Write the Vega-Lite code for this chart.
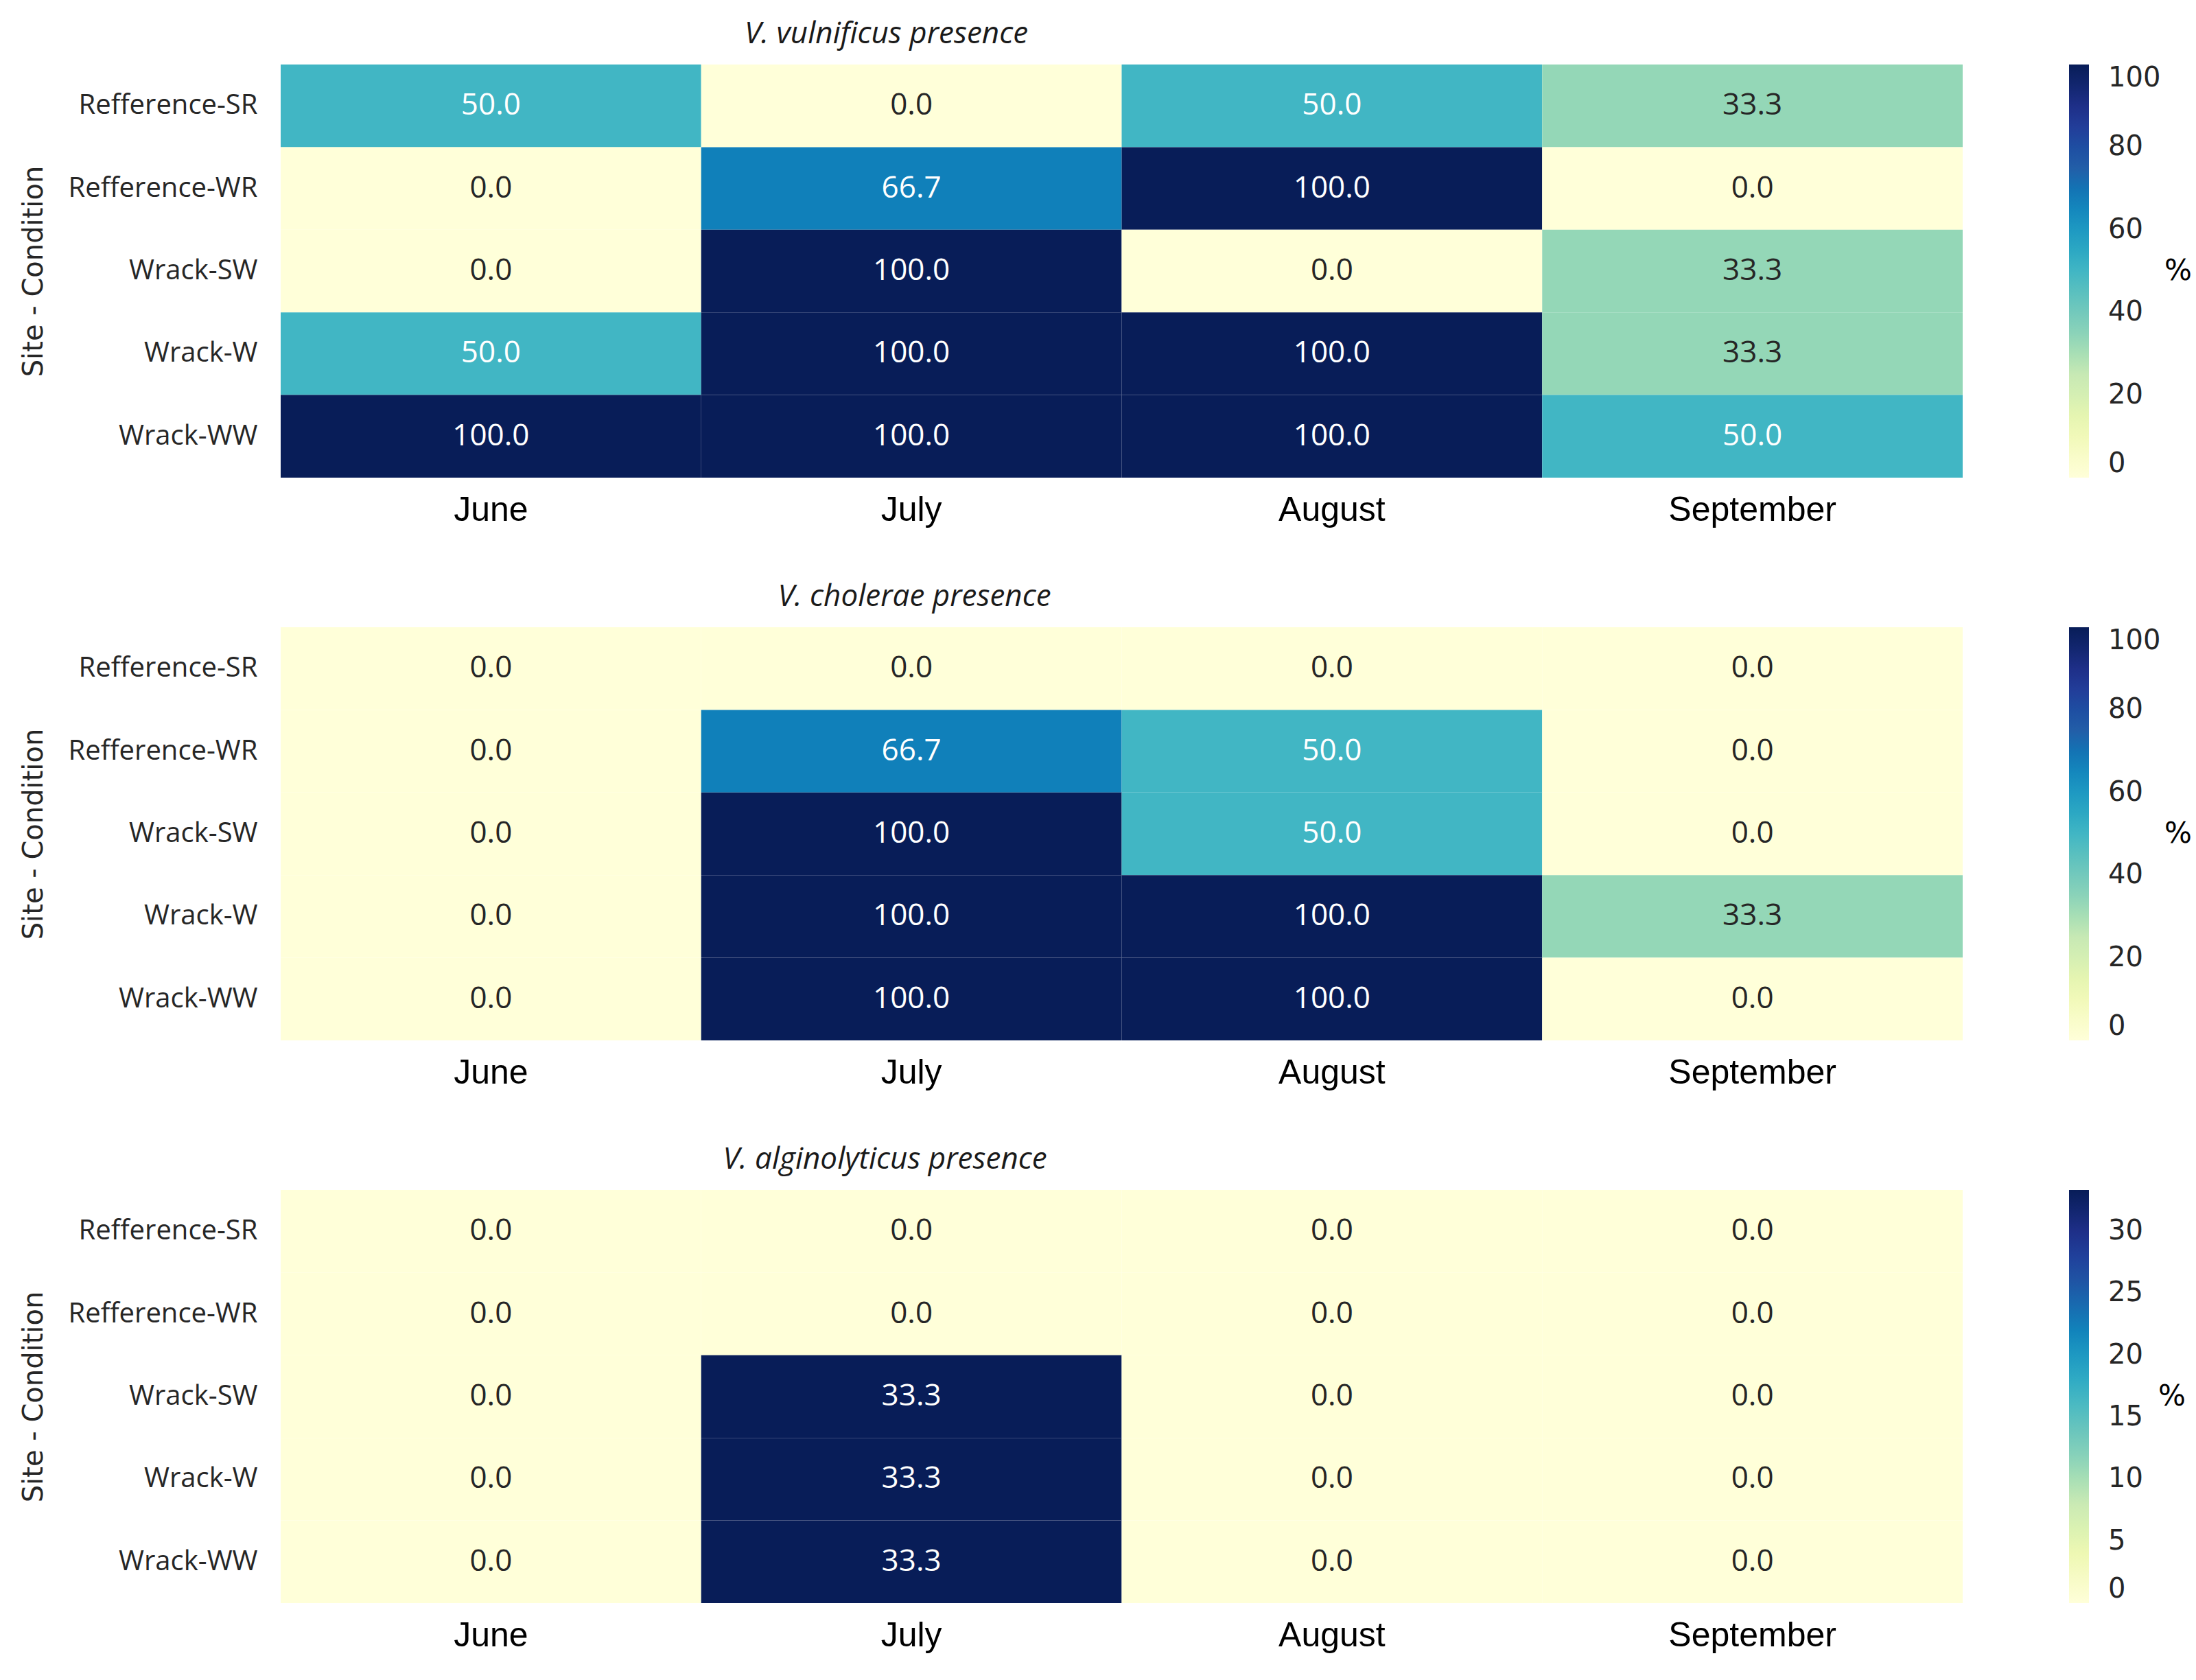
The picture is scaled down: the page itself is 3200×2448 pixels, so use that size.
{
  "$schema": "https://vega.github.io/schema/vega-lite/v6.json",
  "background": "white",
  "padding": {"left": 28, "top": 28, "right": 10, "bottom": 10},
  "datasets": {
    "cells": [
      {"species": "vulnificus", "site": "Refference-SR", "month": "June", "v": 50},
      {"species": "vulnificus", "site": "Refference-SR", "month": "July", "v": 0},
      {"species": "vulnificus", "site": "Refference-SR", "month": "August", "v": 50},
      {"species": "vulnificus", "site": "Refference-SR", "month": "September", "v": 33.33},
      {"species": "vulnificus", "site": "Refference-WR", "month": "June", "v": 0},
      {"species": "vulnificus", "site": "Refference-WR", "month": "July", "v": 66.67},
      {"species": "vulnificus", "site": "Refference-WR", "month": "August", "v": 100},
      {"species": "vulnificus", "site": "Refference-WR", "month": "September", "v": 0},
      {"species": "vulnificus", "site": "Wrack-SW", "month": "June", "v": 0},
      {"species": "vulnificus", "site": "Wrack-SW", "month": "July", "v": 100},
      {"species": "vulnificus", "site": "Wrack-SW", "month": "August", "v": 0},
      {"species": "vulnificus", "site": "Wrack-SW", "month": "September", "v": 33.33},
      {"species": "vulnificus", "site": "Wrack-W", "month": "June", "v": 50},
      {"species": "vulnificus", "site": "Wrack-W", "month": "July", "v": 100},
      {"species": "vulnificus", "site": "Wrack-W", "month": "August", "v": 100},
      {"species": "vulnificus", "site": "Wrack-W", "month": "September", "v": 33.33},
      {"species": "vulnificus", "site": "Wrack-WW", "month": "June", "v": 100},
      {"species": "vulnificus", "site": "Wrack-WW", "month": "July", "v": 100},
      {"species": "vulnificus", "site": "Wrack-WW", "month": "August", "v": 100},
      {"species": "vulnificus", "site": "Wrack-WW", "month": "September", "v": 50},

      {"species": "cholerae", "site": "Refference-SR", "month": "June", "v": 0},
      {"species": "cholerae", "site": "Refference-SR", "month": "July", "v": 0},
      {"species": "cholerae", "site": "Refference-SR", "month": "August", "v": 0},
      {"species": "cholerae", "site": "Refference-SR", "month": "September", "v": 0},
      {"species": "cholerae", "site": "Refference-WR", "month": "June", "v": 0},
      {"species": "cholerae", "site": "Refference-WR", "month": "July", "v": 66.67},
      {"species": "cholerae", "site": "Refference-WR", "month": "August", "v": 50},
      {"species": "cholerae", "site": "Refference-WR", "month": "September", "v": 0},
      {"species": "cholerae", "site": "Wrack-SW", "month": "June", "v": 0},
      {"species": "cholerae", "site": "Wrack-SW", "month": "July", "v": 100},
      {"species": "cholerae", "site": "Wrack-SW", "month": "August", "v": 50},
      {"species": "cholerae", "site": "Wrack-SW", "month": "September", "v": 0},
      {"species": "cholerae", "site": "Wrack-W", "month": "June", "v": 0},
      {"species": "cholerae", "site": "Wrack-W", "month": "July", "v": 100},
      {"species": "cholerae", "site": "Wrack-W", "month": "August", "v": 100},
      {"species": "cholerae", "site": "Wrack-W", "month": "September", "v": 33.33},
      {"species": "cholerae", "site": "Wrack-WW", "month": "June", "v": 0},
      {"species": "cholerae", "site": "Wrack-WW", "month": "July", "v": 100},
      {"species": "cholerae", "site": "Wrack-WW", "month": "August", "v": 100},
      {"species": "cholerae", "site": "Wrack-WW", "month": "September", "v": 0},

      {"species": "alginolyticus", "site": "Refference-SR", "month": "June", "v": 0},
      {"species": "alginolyticus", "site": "Refference-SR", "month": "July", "v": 0},
      {"species": "alginolyticus", "site": "Refference-SR", "month": "August", "v": 0},
      {"species": "alginolyticus", "site": "Refference-SR", "month": "September", "v": 0},
      {"species": "alginolyticus", "site": "Refference-WR", "month": "June", "v": 0},
      {"species": "alginolyticus", "site": "Refference-WR", "month": "July", "v": 0},
      {"species": "alginolyticus", "site": "Refference-WR", "month": "August", "v": 0},
      {"species": "alginolyticus", "site": "Refference-WR", "month": "September", "v": 0},
      {"species": "alginolyticus", "site": "Wrack-SW", "month": "June", "v": 0},
      {"species": "alginolyticus", "site": "Wrack-SW", "month": "July", "v": 33.33},
      {"species": "alginolyticus", "site": "Wrack-SW", "month": "August", "v": 0},
      {"species": "alginolyticus", "site": "Wrack-SW", "month": "September", "v": 0},
      {"species": "alginolyticus", "site": "Wrack-W", "month": "June", "v": 0},
      {"species": "alginolyticus", "site": "Wrack-W", "month": "July", "v": 33.33},
      {"species": "alginolyticus", "site": "Wrack-W", "month": "August", "v": 0},
      {"species": "alginolyticus", "site": "Wrack-W", "month": "September", "v": 0},
      {"species": "alginolyticus", "site": "Wrack-WW", "month": "June", "v": 0},
      {"species": "alginolyticus", "site": "Wrack-WW", "month": "July", "v": 33.33},
      {"species": "alginolyticus", "site": "Wrack-WW", "month": "August", "v": 0},
      {"species": "alginolyticus", "site": "Wrack-WW", "month": "September", "v": 0}
    ]
  },
  "config": {
    "view": {"stroke": null},
    "axis": {"domain": false, "ticks": false, "grid": false, "labelLimit": 800},
    "axisX": {"labelFont": "Liberation Sans", "labelFontSize": 50, "labelColor": "#000000", "labelPadding": 22, "labelAngle": 0},
    "axisY": {"labelFont": "Open Sans", "labelFontSize": 40, "labelColor": "#262626", "labelPadding": 34, "titleFont": "DejaVu Sans", "titleFontSize": 40, "titleFontWeight": "normal", "titleColor": "#262626", "titleX": -340, "titleY": 301},
    "title": {"font": "Open Sans", "fontSize": 44, "fontWeight": "normal", "fontStyle": "italic", "color": "#1a1a1a", "anchor": "middle", "offset": 22}
  },
  "spacing": 80,
  "resolve": {"scale": {"color": "independent"}, "legend": {"color": "independent"}},
  "vconcat": [
    {
      "title": {"text": "V. vulnificus presence", "dx": -343},
      "width": 2451, "height": 602,
      "data": {"name": "cells"},
      "transform": [{"filter": "datum.species === 'vulnificus'"}],
      "encoding": {
        "x": {"field": "month", "type": "nominal", "sort": ["June", "July", "August", "September"], "scale": {"paddingInner": 0, "paddingOuter": 0}, "title": null},
        "y": {"field": "site", "type": "nominal", "sort": ["Refference-SR", "Refference-WR", "Wrack-SW", "Wrack-W", "Wrack-WW"], "scale": {"paddingInner": 0, "paddingOuter": 0}, "title": "Site - Condition"}
      },
      "layer": [
        {"mark": {"type": "rect"}, "encoding": {
          "color": {"field": "v", "type": "quantitative",
            "scale": {"domain": [0, 12.5, 25, 37.5, 50, 62.5, 75, 87.5, 100], "range": ["#ffffd9", "#edf8b1", "#c7e9b4", "#7fcdbb", "#41b6c4", "#1d91c0", "#225ea8", "#253494", "#081d58"]},
            "legend": {"type": "gradient", "title": "%", "values": [0, 20, 40, 60, 80, 100], "gradientLength": 602, "gradientThickness": 29, "gradientStrokeWidth": 0, "labelFont": "DejaVu Sans", "labelFontSize": 40, "labelColor": "#262626", "labelOffset": 28, "labelBaseline": "middle", "labelOverlap": false, "titleOrient": "right", "titleAngle": 360, "titleFont": "DejaVu Sans", "titleFontSize": 42, "titleFontWeight": "normal", "titleColor": "#000000", "titleAnchor": "middle", "titleBaseline": "middle", "titlePadding": 26, "offset": 155,
              "encode": {"title": {"update": {"angle": {"value": 0}}}}}}}},
        {"mark": {"type": "text", "font": "Open Sans", "fontSize": 44}, "encoding": {"text": {"field": "v", "type": "quantitative", "format": ".1f"}, "color": {"condition": {"test": "datum.v >= 50", "value": "#ffffff"}, "value": "#262626"}}}
      ]
    },
    {
      "title": {"text": "V. cholerae presence", "dx": -302},
      "width": 2451, "height": 602,
      "data": {"name": "cells"},
      "transform": [{"filter": "datum.species === 'cholerae'"}],
      "encoding": {
        "x": {"field": "month", "type": "nominal", "sort": ["June", "July", "August", "September"], "scale": {"paddingInner": 0, "paddingOuter": 0}, "title": null},
        "y": {"field": "site", "type": "nominal", "sort": ["Refference-SR", "Refference-WR", "Wrack-SW", "Wrack-W", "Wrack-WW"], "scale": {"paddingInner": 0, "paddingOuter": 0}, "title": "Site - Condition"}
      },
      "layer": [
        {"mark": {"type": "rect"}, "encoding": {
          "color": {"field": "v", "type": "quantitative",
            "scale": {"domain": [0, 12.5, 25, 37.5, 50, 62.5, 75, 87.5, 100], "range": ["#ffffd9", "#edf8b1", "#c7e9b4", "#7fcdbb", "#41b6c4", "#1d91c0", "#225ea8", "#253494", "#081d58"]},
            "legend": {"type": "gradient", "title": "%", "values": [0, 20, 40, 60, 80, 100], "gradientLength": 602, "gradientThickness": 29, "gradientStrokeWidth": 0, "labelFont": "DejaVu Sans", "labelFontSize": 40, "labelColor": "#262626", "labelOffset": 28, "labelBaseline": "middle", "labelOverlap": false, "titleOrient": "right", "titleAngle": 360, "titleFont": "DejaVu Sans", "titleFontSize": 42, "titleFontWeight": "normal", "titleColor": "#000000", "titleAnchor": "middle", "titleBaseline": "middle", "titlePadding": 26, "offset": 155,
              "encode": {"title": {"update": {"angle": {"value": 0}}}}}}}},
        {"mark": {"type": "text", "font": "Open Sans", "fontSize": 44}, "encoding": {"text": {"field": "v", "type": "quantitative", "format": ".1f"}, "color": {"condition": {"test": "datum.v >= 50", "value": "#ffffff"}, "value": "#262626"}}}
      ]
    },
    {
      "title": {"text": "V. alginolyticus presence", "dx": -345},
      "width": 2451, "height": 602,
      "data": {"name": "cells"},
      "transform": [{"filter": "datum.species === 'alginolyticus'"}],
      "encoding": {
        "x": {"field": "month", "type": "nominal", "sort": ["June", "July", "August", "September"], "scale": {"paddingInner": 0, "paddingOuter": 0}, "title": null},
        "y": {"field": "site", "type": "nominal", "sort": ["Refference-SR", "Refference-WR", "Wrack-SW", "Wrack-W", "Wrack-WW"], "scale": {"paddingInner": 0, "paddingOuter": 0}, "title": "Site - Condition"}
      },
      "layer": [
        {"mark": {"type": "rect"}, "encoding": {
          "color": {"field": "v", "type": "quantitative",
            "scale": {"domain": [0, 4.166, 8.333, 12.5, 16.666, 20.833, 25, 29.166, 33.333], "range": ["#ffffd9", "#edf8b1", "#c7e9b4", "#7fcdbb", "#41b6c4", "#1d91c0", "#225ea8", "#253494", "#081d58"]},
            "legend": {"type": "gradient", "title": "%", "values": [0, 5, 10, 15, 20, 25, 30], "gradientLength": 602, "gradientThickness": 29, "gradientStrokeWidth": 0, "labelFont": "DejaVu Sans", "labelFontSize": 40, "labelColor": "#262626", "labelOffset": 28, "labelBaseline": "middle", "labelOverlap": false, "titleOrient": "right", "titleAngle": 360, "titleFont": "DejaVu Sans", "titleFontSize": 42, "titleFontWeight": "normal", "titleColor": "#000000", "titleAnchor": "middle", "titleBaseline": "middle", "titlePadding": 42, "offset": 155,
              "encode": {"title": {"update": {"angle": {"value": 0}}}}}}}},
        {"mark": {"type": "text", "font": "Open Sans", "fontSize": 44}, "encoding": {"text": {"field": "v", "type": "quantitative", "format": ".1f"}, "color": {"condition": {"test": "datum.v > 20", "value": "#ffffff"}, "value": "#262626"}}}
      ]
    }
  ]
}
